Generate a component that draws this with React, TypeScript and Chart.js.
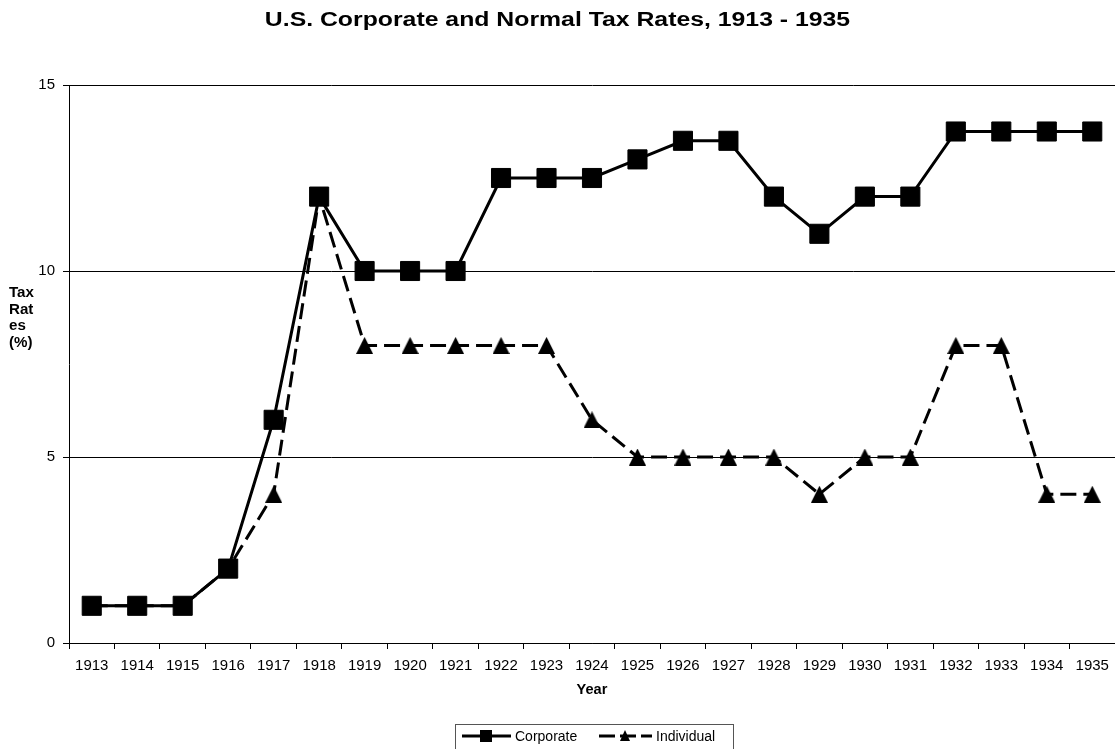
import React, { useEffect, useRef } from 'react';
import { Chart, registerables } from 'chart.js';

Chart.register(...registerables);

const years = ['1913', '1914', '1915', '1916', '1917', '1918', '1919', '1920', '1921', '1922', '1923', '1924', '1925', '1926', '1927', '1928', '1929', '1930', '1931', '1932', '1933', '1934', '1935'];
const corporate = [1, 1, 1, 2, 6, 12, 10, 10, 10, 12.5, 12.5, 12.5, 13, 13.5, 13.5, 12, 11, 12, 12, 13.75, 13.75, 13.75, 13.75];
const individual = [1, 1, 1, 2, 4, 12, 8, 8, 8, 8, 8, 6, 5, 5, 5, 5, 4, 5, 5, 8, 8, 4, 4];
const yMin = 0;
const yMax = 15;
const yStep = 5;
const chartTitle = 'U.S. Corporate and Normal Tax Rates, 1913 - 1935';
const yTitleLines = ['Tax', 'Rat', 'es', '(%)'];
const xTitle = 'Year';

const FONT = '"Liberation Sans", Arial, Helvetica, sans-serif';

function stretchedText(ctx: CanvasRenderingContext2D, text: string, x: number, y: number, sx: number) {
  ctx.save();
  ctx.translate(x, y);
  ctx.scale(sx, 1);
  ctx.fillText(text, 0, 0);
  ctx.restore();
}

function makeTriangle(w: number, h: number) {
  const c = document.createElement('canvas');
  c.width = w;
  c.height = h;
  const g = c.getContext('2d')!;
  g.fillStyle = '#000';
  g.beginPath();
  g.moveTo(w / 2, 0);
  g.lineTo(w, h);
  g.lineTo(0, h);
  g.closePath();
  g.fill();
  return c;
}

const textPlugin = {
  id: 'customText',
  afterDraw(chart: any) {
    const { ctx, chartArea } = chart;
    ctx.save();
    ctx.fillStyle = '#000';
    // title
    ctx.textAlign = 'center';
    ctx.textBaseline = 'middle';
    ctx.font = `bold 20px ${FONT}`;
    stretchedText(ctx, chartTitle, chart.width / 2, 20, 1.24);
    // y title
    ctx.font = `bold 14px ${FONT}`;
    ctx.textAlign = 'left';
    yTitleLines.forEach((t, i) => stretchedText(ctx, t, 9, 293 + i * 16.7, 1.08));
    // x title
    ctx.textAlign = 'center';
    stretchedText(ctx, xTitle, (chartArea.left + chartArea.right) / 2, 690, 1.04);

    // legend
    const boxL = 455, boxR = 733, boxT = 724;
    ctx.strokeStyle = '#555';
    ctx.lineWidth = 1;
    ctx.strokeRect(boxL + 0.5, boxT + 0.5, boxR - boxL, 40);
    const ly = 736;
    const ds = chart.data.datasets;
    // corporate
    ctx.strokeStyle = '#000';
    ctx.lineWidth = 3;
    ctx.setLineDash([]);
    ctx.beginPath();
    ctx.moveTo(462, ly);
    ctx.lineTo(511, ly);
    ctx.stroke();
    ctx.fillRect(486 - 6, ly - 6, 12, 12);
    ctx.font = `14px ${FONT}`;
    ctx.textAlign = 'left';
    ctx.fillText(ds[0].label, 515, ly + 1);
    // individual
    ctx.setLineDash([16, 5]);
    ctx.beginPath();
    ctx.moveTo(599, ly);
    ctx.lineTo(652, ly);
    ctx.stroke();
    ctx.setLineDash([]);
    ctx.beginPath();
    ctx.moveTo(625, ly - 6);
    ctx.lineTo(630, ly + 5);
    ctx.lineTo(620, ly + 5);
    ctx.closePath();
    ctx.fill();
    ctx.fillText(ds[1].label, 656, ly + 1);
    ctx.restore();
  },
};

export default function App() {
  const canvasRef = useRef<HTMLCanvasElement | null>(null);

  useEffect(() => {
    document.body.style.margin = '0';
    const canvas = canvasRef.current;
    if (!canvas) return;
    Chart.defaults.font.family = FONT;
    const tri = makeTriangle(17, 17);
    const chart = new Chart(canvas, {
      type: 'line',
      data: {
        labels: years,
        datasets: [
          {
            label: 'Corporate',
            data: corporate,
            borderColor: '#000',
            backgroundColor: '#000',
            borderWidth: 3,
            pointStyle: 'rect',
            pointRadius: 13.5,
            pointBorderWidth: 1,
            pointBackgroundColor: '#000',
            pointBorderColor: '#000',
            tension: 0,
          },
          {
            label: 'Individual',
            data: individual,
            borderColor: '#000',
            backgroundColor: '#000',
            borderWidth: 3,
            borderDash: [16, 7],
            pointStyle: tri,
            pointRadius: 9,
            pointBackgroundColor: '#000',
            pointBorderColor: '#000',
            tension: 0,
          },
        ],
      },
      options: {
        animation: false,
        responsive: false,
        layout: { autoPadding: false, padding: { top: 85, left: 0, right: 0, bottom: 0 } },
        plugins: {
          legend: { display: false },
          title: { display: false },
          tooltip: { enabled: false },
        },
        scales: {
          x: {
            type: 'category',
            offset: true,
            grid: {
              offset: true,
              drawOnChartArea: false,
              drawTicks: true,
              tickLength: 6,
              color: '#000',
            },
            border: { display: true, color: '#000', width: 1 },
            ticks: {
              color: '#000',
              font: { size: 15 },
              padding: 8,
              maxRotation: 0,
              autoSkip: false,
            },
            afterFit: (s: any) => {
              s.height = 106;
              s.paddingLeft = 0;
              s.paddingRight = 0;
            },
          },
          y: {
            min: yMin,
            max: yMax,
            ticks: {
              stepSize: yStep,
              color: '#000',
              font: { size: 15 },
              padding: 8,
            },
            grid: {
              color: '#000',
              lineWidth: 1,
              drawTicks: true,
              tickLength: 6,
            },
            border: { display: true, color: '#000', width: 1 },
            afterFit: (s: any) => {
              s.width = 69;
              s.paddingTop = 0;
              s.paddingBottom = 0;
            },
          },
        },
      },
      plugins: [textPlugin],
    });
    return () => chart.destroy();
  }, []);

  return (
    <div style={{ width: 1115, height: 749, background: '#fff' }}>
      <canvas ref={canvasRef} width={1115} height={749} style={{ display: 'block' }} />
    </div>
  );
}
